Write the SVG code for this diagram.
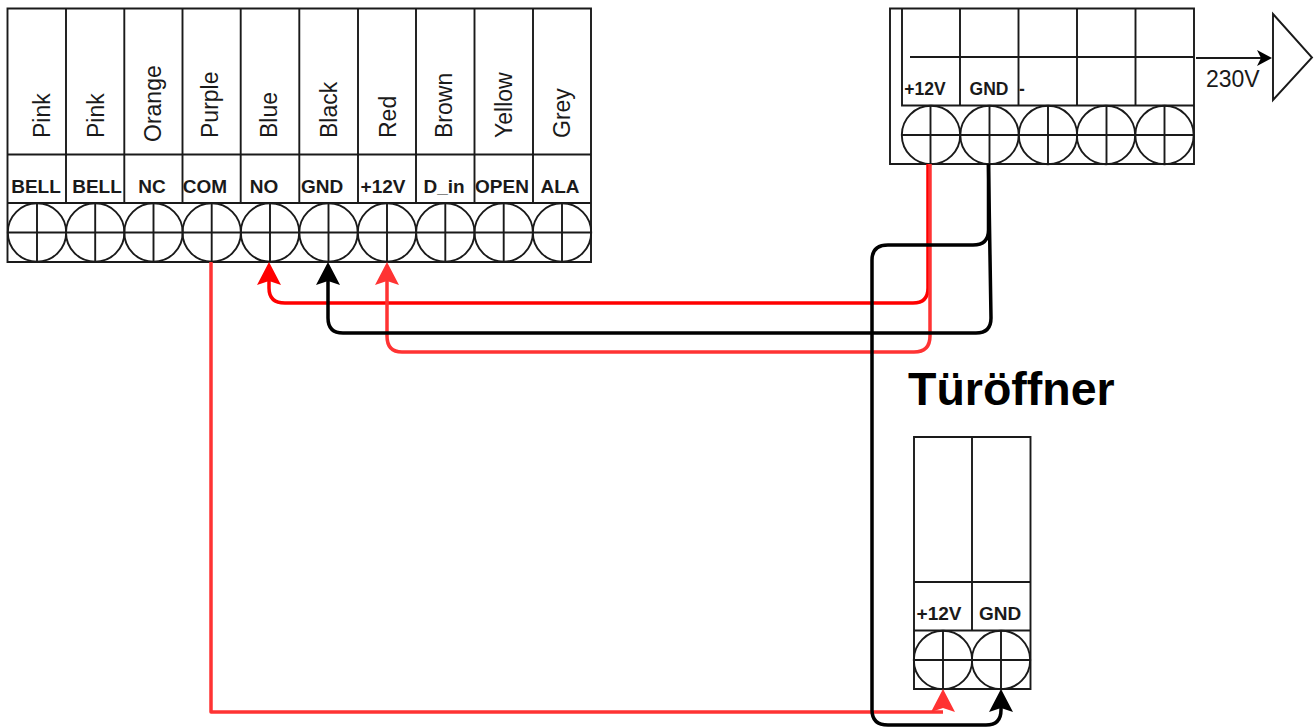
<svg xmlns="http://www.w3.org/2000/svg" width="1314" height="727" viewBox="0 0 1314 727">
<style>
text{font-family:"Liberation Sans",Arial,sans-serif;fill:#1a1a1a;stroke:none}
.s{fill:none;stroke:#1a1a1a;stroke-width:1.9}
.b{font-weight:700;font-size:19px;text-anchor:middle}
.c{font-weight:700;font-size:17.500px;text-anchor:middle}
.v{font-size:23px}
.w{fill:none;stroke-width:3.500;stroke-linejoin:round}
</style>
<rect width="1314" height="727" fill="#fff"/>
<g id="left-block" class="s">
<path d="M7.500 8.500H591V262H7.500ZM7.500 154.500H591M7.500 203H591M7.500 232.500H591M66 8.500V203M124.300 8.500V203M182.500 8.500V203M240.700 8.500V203M299.300 8.500V203M358 8.500V203M416 8.500V203M474.500 8.500V203M533 8.500V203"/>
<circle cx="37" cy="232.500" r="29.200"/><circle cx="95.200" cy="232.500" r="29.200"/><circle cx="153.500" cy="232.500" r="29.200"/><circle cx="211.700" cy="232.500" r="29.200"/><circle cx="270" cy="232.500" r="29.200"/><circle cx="328.500" cy="232.500" r="29.200"/><circle cx="387" cy="232.500" r="29.200"/><circle cx="445.300" cy="232.500" r="29.200"/><circle cx="503.700" cy="232.500" r="29.200"/><circle cx="562" cy="232.500" r="29.200"/>
<path d="M37 203V262M95.200 203V262M153.500 203V262M211.700 203V262M270 203V262M328.500 203V262M387 203V262M445.300 203V262M503.700 203V262M562 203V262"/>
</g>
<g id="left-labels">
<g class="b"><text x="36" y="192.500">BELL</text><text x="97" y="192.500">BELL</text><text x="152" y="192.500">NC</text><text x="205" y="192.500">COM</text><text x="264" y="192.500">NO</text><text x="322" y="192.500">GND</text><text x="383" y="192.500">+12V</text><text x="444" y="192.500">D_in</text><text x="502" y="192.500">OPEN</text><text x="560" y="192.500">ALA</text></g>
<g class="v"><text transform="translate(50 138) rotate(-90)">Pink</text><text transform="translate(104 138) rotate(-90)">Pink</text><text transform="translate(161 142) rotate(-90)">Orange</text><text transform="translate(218 138) rotate(-90)">Purple</text><text transform="translate(277 138) rotate(-90)">Blue</text><text transform="translate(337 138) rotate(-90)">Black</text><text transform="translate(396 138) rotate(-90)">Red</text><text transform="translate(452 138) rotate(-90)">Brown</text><text transform="translate(512 138) rotate(-90)">Yellow</text><text transform="translate(570 138) rotate(-90)">Grey</text></g>
</g>
<g id="power-block" class="s">
<path d="M890 8.500H1194V164H890ZM902 8.500V105.500H1194M960 8.500V105.500M1018.500 8.500V105.500M1077 8.500V105.500M1135.500 8.500V105.500M910 57H1194M902 135H1194"/>
<circle cx="931" cy="135" r="29.200"/><circle cx="989.500" cy="135" r="29.200"/><circle cx="1048" cy="135" r="29.200"/><circle cx="1106" cy="135" r="29.200"/><circle cx="1164.500" cy="135" r="29.200"/>
<path d="M930.500 105.500V164M989.500 105.500V164M1048 105.500V164M1106.500 105.500V164M1164.500 105.500V164"/>
<g class="c"><text x="925" y="95">+12V</text><text x="989" y="95">GND</text><text x="1022" y="95">-</text></g>
</g>
<g id="mains" class="s">
<path d="M1273 14L1312 57.500L1273 100Z"/>
</g>
<text x="1206" y="87" style="font-size:23px">230V</text>
<g id="door-opener" class="s">
<path d="M914 437H1030.500V689H914ZM914 582H1030.500M914 630.500H1030.500M914 660H1030.500M972 437V630.500"/>
<circle cx="943" cy="660" r="29.200"/><circle cx="1001" cy="660" r="29.200"/>
<path d="M943 630.500V689M1001 630.500V689"/>
<g class="b"><text x="939" y="619.500">+12V</text><text x="1000" y="619.500">GND</text></g>
</g>
<text x="908" y="405" style="font-size:46.500px;font-weight:700;fill:#000">Türöffner</text>
<g id="connectors">
<path class="w" stroke="#ff3333" d="M211 262V712H943"/>
<path class="w" stroke="#ff0000" d="M928 164V288Q928 303 913 303H285Q269 303 269 288V278"/>
<path class="w" stroke="#ff3333" d="M930 164V336Q930 352 914 352H402Q387 352 387 336V278"/>
<path class="w" stroke="#000" d="M988.500 164V230Q988.500 245 973 245H888Q872 245 872 260V710Q872 725 888 725H986Q1001 725 1001 710V705"/>
<path class="w" stroke="#000" d="M988.500 164L991 318Q991 333 976 333H343Q328 333 328 318V278"/>
<path d="M269 262L281 285L269 281L257 285Z" fill="#ff0000"/>
<path d="M328 262L340 285L328 281L316 285Z" fill="#000"/>
<path d="M387 262L399 285L387 281L375 285Z" fill="#ff3333"/>
<path d="M943 689L955 712L943 708L931 712Z" fill="#ff3333"/>
<path d="M1001 689L1013 712L1001 708L989 712Z" fill="#000"/>
<path d="M1196 58H1268" fill="none" stroke="#1a1a1a" stroke-width="1.900"/>
<path d="M1272 58L1257 50L1261 58L1257 66Z" fill="#000"/>
</g>
</svg>
